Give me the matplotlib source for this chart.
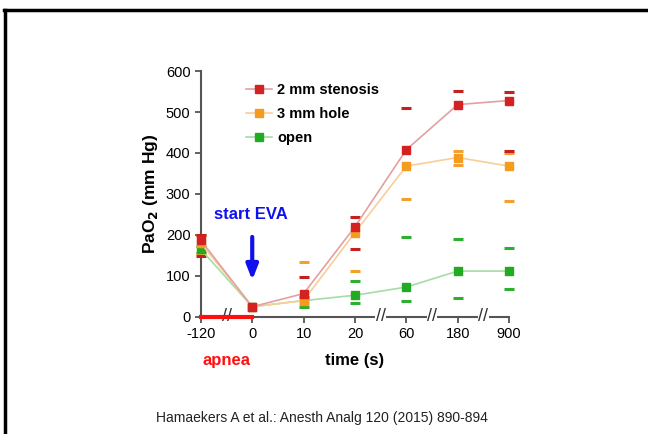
import numpy as np
import matplotlib
matplotlib.use("Agg")
import matplotlib.pyplot as plt
from matplotlib.lines import Line2D

plt.rcParams['font.family'] = ['Liberation Sans', 'DejaVu Sans']

# time points (categorical, with axis breaks)
time_labels = ['-120', '0', '10', '20', '60', '180', '900']
nan = np.nan

# 2 mm stenosis
stenosis_mean = [187, 25, 57, 220, 408, 518, 528]
stenosis_hi = [200, nan, 98, 243, 510, 552, 549]
stenosis_lo = [148, nan, nan, 165, nan, nan, 405]

# 3 mm hole
hole_mean = [180, 25, 40, 206, 368, 389, 368]
hole_hi = [200, nan, 134, nan, nan, 404, 399]
hole_lo = [155, nan, nan, 111, 288, 370, 284]

# open
open_mean = [165, 25, 40, 53, 73, 112, 112]
open_hi = [172, nan, 48, 88, 194, 190, 168]
open_lo = [157, nan, 24, 33, 38, 46, 68]

series = [
    ('open', open_mean, open_hi, open_lo, '#a6dca6', '#22aa22', '#2fae2f'),
    ('3 mm hole', hole_mean, hole_hi, hole_lo, '#f8cd98', '#f39c1e', '#f2a030'),
    ('2 mm stenosis', stenosis_mean, stenosis_hi, stenosis_lo, '#e3a0a0', '#d42222', '#c52020'),
]

fig = plt.figure(figsize=(6.48, 4.34), dpi=100)
ax = fig.add_axes([0.310, 0.2696, 0.4755, 0.5668])

x = np.arange(len(time_labels))
handles = {}
for name, mean, hi, lo, lc, mc, dc in series:
    ax.plot(x, hi, linestyle='none', marker='_', markersize=6.5, mew=2.2,
            color=dc, clip_on=False, zorder=3)
    ax.plot(x, lo, linestyle='none', marker='_', markersize=6.5, mew=2.2,
            color=dc, clip_on=False, zorder=3)
    h, = ax.plot(x, mean, color=lc, lw=1.2, marker='s', markersize=6.3,
                 markerfacecolor=mc, markeredgecolor=mc, clip_on=False, zorder=4)
    handles[name] = h

order = ['2 mm stenosis', '3 mm hole', 'open']
leg = ax.legend([handles[n] for n in order], order, loc='upper left',
                bbox_to_anchor=(0.105, 1.005), frameon=False, handlelength=1.75,
                handletextpad=0.35, labelspacing=0.68, prop={'weight': 'bold', 'size': 10.5})

ax.set_xlim(0, 6)
ax.set_ylim(0, 600)
ax.set_xticks(x)
ax.set_xticklabels(time_labels)
ax.set_yticks([0, 100, 200, 300, 400, 500, 600])
ax.tick_params(labelsize=10.5, color='#555555', width=1.3, length=4)

for s in ['top', 'right']:
    ax.spines[s].set_visible(False)
for s in ['left', 'bottom']:
    ax.spines[s].set_color('#555555')
    ax.spines[s].set_linewidth(1.5)

ax.set_ylabel(r'PaO$_\mathbf{2}$ (mm Hg)', fontsize=12.5, fontweight='bold', labelpad=4)

# axis breaks
for bx in [0.5, 3.5, 4.5, 5.5]:
    ax.text(bx, 0, '//', ha='center', va='center', fontsize=13, color='#333333',
            bbox=dict(facecolor='white', edgecolor='none', pad=0.3), clip_on=False, zorder=5)

# apnea bar
ax.plot([0, 1], [0, 0], color='#ff1010', lw=3, clip_on=False, zorder=6)
ax.text(0.49, -0.175, 'apnea', transform=ax.get_xaxis_transform(), ha='center', va='center',
        color='#ff1010', fontsize=12, fontweight='bold')
ax.text(3.0, -0.175, 'time (s)', transform=ax.get_xaxis_transform(), ha='center', va='center',
        color='black', fontsize=12, fontweight='bold')

# start EVA
ax.text(0.97, 249, 'start EVA', ha='center', va='center', color='#1010ee',
        fontsize=12, fontweight='bold')
ax.annotate('', xy=(1, 83), xytext=(1, 202),
            arrowprops=dict(arrowstyle='-|>,head_width=0.35,head_length=0.9',
                            color='#1010ee', lw=3))

fig.text(0.497, 0.036, 'Hamaekers A et al.: Anesth Analg 120 (2015) 890-894',
         ha='center', va='center', fontsize=10, color='#222222')

# slide frame
fig.add_artist(Line2D([4 / 648, 1], [1 - 9.5 / 434, 1 - 9.5 / 434], color='black', lw=2.5))
fig.add_artist(Line2D([5 / 648, 5 / 648], [0, 1 - 9.5 / 434], color='black', lw=2.5))

fig.savefig('out.png', dpi=100)
